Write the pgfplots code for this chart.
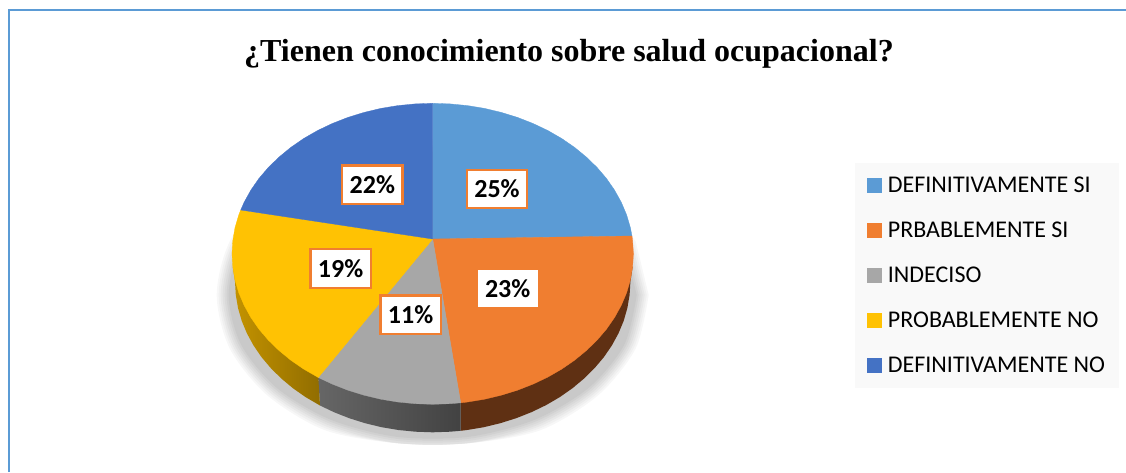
\documentclass[border=0pt]{standalone}
\usepackage{fontspec}
\setmainfont{Carlito}
\newfontfamily\titlefont{Liberation Serif}
\usepackage{pgfplots}
\usepackage{pgfplotstable}
\pgfplotsset{compat=1.18}

\definecolor{c1}{HTML}{5B9BD5}
\definecolor{c2}{HTML}{F07E30}
\definecolor{c3}{HTML}{A7A7A7}
\definecolor{c4}{HTML}{FFC203}
\definecolor{c5}{HTML}{4472C4}
\definecolor{legbg}{HTML}{F9F9F9}
\definecolor{brown}{HTML}{5F3013}

% unit circle for the soft shadow below the pie
\pgfplotstableread{
c s
1.000 0.000
0.940 0.342
0.766 0.643
0.500 0.866
0.174 0.985
-0.174 0.985
-0.500 0.866
-0.766 0.643
-0.940 0.342
-1.000 0.000
-0.940 -0.342
-0.766 -0.643
-0.500 -0.866
-0.174 -0.985
0.174 -0.985
0.500 -0.866
0.766 -0.643
0.940 -0.342
}\unitcircle

\newcommand\shadowlayer[3]{\addplot[forget plot,smooth,fill=black!#3,draw=none] table[x expr={432.7+#1*\thisrow{c}},y expr={min(443,295+#2*\thisrow{s})}] {\unitcircle} --cycle;}

\begin{document}
\begin{tikzpicture}
\useasboundingbox (0,0) rectangle (1126pt,472pt);
\begin{axis}[
    scale only axis,
    width=1126pt, height=472pt,
    xmin=0, xmax=1126, ymin=0, ymax=472,
    y dir=reverse,
    hide axis,
    legend style={at={(axis cs:855,162.3)},anchor=north west,fill=legbg,draw=none,
        font=\fontsize{24}{28}\selectfont,row sep=24pt,inner xsep=12pt,inner ysep=12pt,
        /tikz/every even column/.append style={column sep=0pt}},
    legend cell align={left},
    legend image code/.code={\fill[#1] (0pt,-7pt) rectangle (14pt,7pt);},
]
% frame
\addplot[forget plot,color=c1,line width=2pt] coordinates {(9,472) (9,10) (1126,10)};

% shadow
\shadowlayer{216}{156}{3}
\shadowlayer{214}{154}{6}
\shadowlayer{212}{152}{9}
\shadowlayer{210}{150}{12}
\shadowlayer{208}{148}{15}
\shadowlayer{206}{146}{18}
\shadowlayer{204}{144}{21}

% sides
\addplot[forget plot,fill=brown,draw=none] coordinates {(632.6,266.9) (630.4,281.8) (629.6,294.9) (627.4,307.9) (623.7,320.8) (618.5,333.3) (611.9,345.4) (603.9,357.1) (594.6,368.1) (584.1,378.5) (572.5,388.2) (559.8,397.1) (546.1,405.1) (531.6,412.1) (516.2,418.2) (500.3,423.2) (483.8,427.2) (467.1,430.0) (460.7,430.8) (460.7,402.8)} --cycle;
\addplot[forget plot,left color=black!60,middle color=black!71,right color=black!74,draw=none] coordinates {(318.3,377.5) (320,405.5) (333.8,412.1) (349.2,418.2) (365.1,423.2) (381.6,427.2) (398.3,430.0) (415.5,431.7) (432.7,432.3) (449.9,431.7) (460.7,430.8) (460.7,402.8)} --cycle;
\addplot[forget plot,left color={rgb,255:red,196;green,147;blue,0},middle color={rgb,255:red,180;green,135;blue,0},right color={rgb,255:red,145;green,109;blue,0},draw=none] coordinates {(232.8,266.9) (235.0,281.8) (235.8,294.9) (238.0,307.9) (241.7,320.8) (246.9,333.3) (253.5,345.4) (261.5,357.1) (270.8,368.1) (281.3,378.5) (292.9,388.2) (305.6,397.1) (320,405.5) (318.3,377.5)} --cycle;

% top of the pie
\addplot[fill=c1,draw=c1,line width=.3pt] coordinates {
(432.7,239) (432.7,103.3) (450.2,103.9) (467.6,105.6) (484.6,108.4) (501.3,112.4) (517.5,117.4) (533.1,123.5) (547.8,130.5) (561.7,138.5) (574.6,147.4) (586.4,157.1) (597.1,167.5) (606.5,178.5) (614.6,190.2) (621.3,202.3) (626.6,214.8) (630.4,227.7) (632.0,236)
} --cycle;
\addlegendentry{\hspace{4.4pt}DEFINITIVAMENTE SI}
\addplot[fill=c2,draw=c2,line width=.3pt] coordinates {
(432.7,239) (632.0,236) (632.6,240.7) (633.4,253.8) (632.6,266.9) (630.4,279.9) (626.6,292.8) (621.3,305.3) (614.6,317.4) (606.5,329.1) (597.1,340.1) (586.4,350.5) (574.6,360.2) (561.7,369.1) (547.8,377.1) (533.1,384.1) (517.5,390.2) (501.3,395.2) (484.6,399.2) (467.6,402.0) (460.7,402.8)
} --cycle;
\addlegendentry{\hspace{4.4pt}PRBABLEMENTE SI}
\addplot[fill=c3,draw=c3,line width=.3pt] coordinates {
(432.7,239) (460.7,402.8) (450.2,403.7) (432.7,404.3) (415.2,403.7) (397.8,402.0) (380.8,399.2) (364.1,395.2) (347.9,390.2) (332.3,384.1) (318.3,377.5)
} --cycle;
\addlegendentry{\hspace{4.4pt}INDECISO}
\addplot[fill=c4,draw=c4,line width=.3pt] coordinates {
(432.7,239) (318.3,377.5) (303.7,369.1) (290.8,360.2) (279.0,350.5) (268.3,340.1) (258.9,329.1) (250.8,317.4) (244.1,305.3) (238.8,292.8) (235.0,279.9) (232.8,266.9) (232.0,253.8) (232.8,240.7) (235.0,227.7) (238.8,214.8) (240.7,210)
} --cycle;
\addlegendentry{\hspace{4.4pt}PROBABLEMENTE NO}
\addplot[fill=c5,draw=c5,line width=.3pt] coordinates {
(432.7,239) (240.7,210) (244.1,202.3) (250.8,190.2) (258.9,178.5) (268.3,167.5) (279.0,157.1) (290.8,147.4) (303.7,138.5) (317.6,130.5) (332.3,123.5) (347.9,117.4) (364.1,112.4) (380.8,108.4) (397.8,105.6) (415.2,103.9) (432.7,103.3)
} --cycle;
\addlegendentry{\hspace{4.4pt}DEFINITIVAMENTE NO\hspace{-2pt}}

% percentage labels
\node[fill=white,draw=c2,line width=2.4pt,inner sep=0pt,minimum width=60.5pt,minimum height=38.5pt,font=\fontsize{26}{30}\selectfont\bfseries] at (axis cs:372.3,184.9) {22\%};
\node[fill=white,draw=c2,line width=2.4pt,inner sep=0pt,minimum width=60.5pt,minimum height=38.5pt,font=\fontsize{26}{30}\selectfont\bfseries] at (axis cs:497,189) {25\%};
\node[fill=white,draw=c2,line width=2.4pt,inner sep=0pt,minimum width=60.5pt,minimum height=38.5pt,font=\fontsize{26}{30}\selectfont\bfseries] at (axis cs:340.6,268.5) {19\%};
\node[fill=white,draw=c2,line width=2.4pt,inner sep=0pt,minimum width=60.5pt,minimum height=38.5pt,font=\fontsize{26}{30}\selectfont\bfseries] at (axis cs:410.6,314.6) {11\%};
\node[fill=white,inner sep=0pt,minimum width=60pt,minimum height=37pt,font=\fontsize{26}{30}\selectfont\bfseries] at (axis cs:507.7,288.8) {23\%};

% title
\node[font=\titlefont\bfseries\fontsize{32}{38}\selectfont] at (axis cs:569,53.5) {¿Tienen conocimiento sobre salud ocupacional?};
\end{axis}
\end{tikzpicture}
\end{document}
